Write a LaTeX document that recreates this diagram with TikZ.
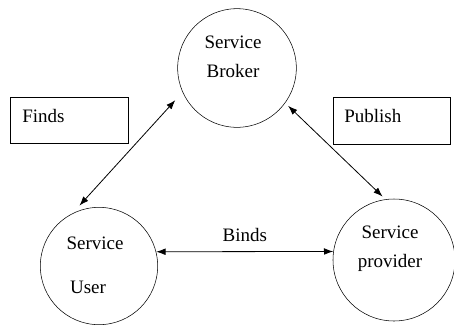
\documentclass[tikz,border=0pt]{standalone}
\usepackage{fontspec}
\setmainfont{Liberation Serif}
\usetikzlibrary{arrows.meta}

\tikzset{
  party/.style={circle, draw, thin, minimum size=89pt, inner sep=0pt},
  notebox/.style={draw, semithick, minimum width=88pt, minimum height=35pt, inner sep=0pt},
  txt/.style={inner sep=0pt, align=center, font=\fontsize{14.25}{21.5}\selectfont},
  link/.style={<->, >={Latex[length=7pt,width=5pt]}, semithick}
}

\begin{document}
\begin{tikzpicture}[x=0.75pt, y=-0.75pt]
    \useasboundingbox (0,0) rectangle (454,326);

    % Nodes
    \node[party] at (237, 68) (broker) {};
    \node[party, minimum size=88pt] at (99, 266) (user) {};
    \node[party, minimum size=91.5pt] at (394, 260) (provider) {};

    \node[notebox, minimum width=88.5pt] at (69, 120.5) (findsbox) {};
    \node[notebox, minimum width=87.75pt] at (391.5, 121) (publishbox) {};

    % Texts
    \node[txt] at (233, 57) (brokertext) {Service\\Broker};
    \node[txt] at (95, 243) (usertext1) {Service};
    \node[txt] at (88, 287) (usertext2) {User};
    \node[txt] at (390, 249) (providertext) {Service\\provider};
    \node[txt, anchor=west] at (22, 116) (findstext) {Finds};
    \node[txt, anchor=west] at (344, 116) (publishtext) {Publish};

    % Connectors
    \draw[link, shorten <=8pt, shorten >=8pt] (user.117) -- (broker.204);
    \draw[link, shorten <=3pt, shorten >=3pt] (broker.324) -- (provider.98);
    \draw[link] (user.14) -- (provider.172.5) node[txt, midway, above=7pt] (bindstext) {Binds};

  \end{tikzpicture}
\end{document}
